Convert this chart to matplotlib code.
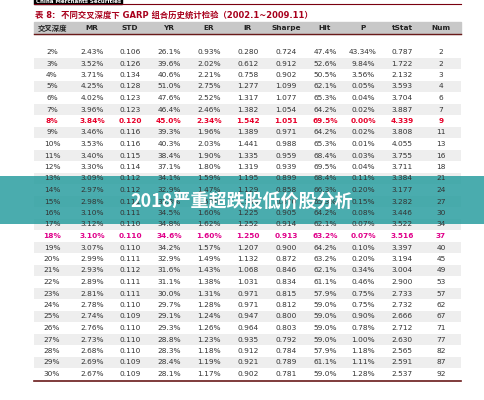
import matplotlib
matplotlib.use("Agg")
import matplotlib.pyplot as plt
from matplotlib.patches import Rectangle

plt.rcParams['font.family'] = ['DejaVu Sans', 'Noto Sans CJK SC']

headers = ["交叉深度", "MR", "STD", "YR", "ER", "IR", "Sharpe", "Hit", "P", "tStat", "Num"]
depth = ["2%","3%","4%","5%","6%","7%","8%","9%","10%","11%","12%","13%","14%","15%","16%","17%","18%","19%",
         "20%","21%","22%","23%","24%","25%","26%","27%","28%","29%","30%"]
MR = ["2.43%","3.52%","3.71%","4.25%","4.02%","3.96%","3.84%","3.46%","3.53%","3.40%","3.30%","3.09%","2.97%","2.98%",
      "3.10%","3.12%","3.10%","3.07%","2.99%","2.93%","2.89%","2.81%","2.78%","2.74%","2.76%","2.73%","2.68%","2.69%","2.67%"]
STD = ["0.106","0.126","0.134","0.128","0.123","0.123","0.120","0.116","0.116","0.115","0.114","0.112","0.112","0.111",
       "0.111","0.110","0.110","0.110","0.111","0.112","0.111","0.111","0.110","0.109","0.110","0.110","0.110","0.109","0.109"]
YR = ["26.1%","39.6%","40.6%","51.0%","47.6%","46.4%","45.0%","39.3%","40.3%","38.4%","37.1%","34.1%","32.9%","33.3%",
      "34.5%","34.8%","34.6%","34.2%","32.9%","31.6%","31.1%","30.0%","29.7%","29.1%","29.3%","28.8%","28.3%","28.4%","28.1%"]
ER = ["0.93%","2.02%","2.21%","2.75%","2.52%","2.46%","2.34%","1.96%","2.03%","1.90%","1.80%","1.59%","1.47%","1.52%",
      "1.60%","1.62%","1.60%","1.57%","1.49%","1.43%","1.38%","1.31%","1.28%","1.24%","1.26%","1.23%","1.18%","1.19%","1.17%"]
IR = ["0.280","0.612","0.758","1.277","1.317","1.382","1.542","1.389","1.441","1.335","1.319","1.195","1.129","1.160",
      "1.225","1.252","1.250","1.207","1.132","1.068","1.031","0.971","0.971","0.947","0.964","0.935","0.912","0.921","0.902"]
Sharpe = ["0.724","0.912","0.902","1.099","1.077","1.054","1.051","0.971","0.988","0.959","0.939","0.899","0.858","0.870",
          "0.905","0.914","0.913","0.900","0.872","0.846","0.834","0.815","0.812","0.800","0.803","0.792","0.784","0.789","0.781"]
Hit = ["47.4%","52.6%","50.5%","62.1%","65.3%","64.2%","69.5%","64.2%","65.3%","68.4%","69.5%","68.4%","66.3%","65.3%",
       "64.2%","62.1%","63.2%","64.2%","63.2%","62.1%","61.1%","57.9%","59.0%","59.0%","59.0%","59.0%","57.9%","61.1%","59.0%"]
P = ["43.34%","9.84%","3.56%","0.05%","0.04%","0.02%","0.00%","0.02%","0.01%","0.03%","0.04%","0.11%","0.20%","0.15%",
     "0.08%","0.07%","0.07%","0.10%","0.20%","0.34%","0.46%","0.75%","0.75%","0.90%","0.78%","1.00%","1.18%","1.11%","1.28%"]
tStat = ["0.787","1.722","2.132","3.593","3.704","3.887","4.339","3.808","4.055","3.755","3.711","3.384","3.177","3.282",
         "3.446","3.522","3.516","3.397","3.194","3.004","2.900","2.733","2.732","2.666","2.712","2.630","2.565","2.591","2.537"]
Num = ["2","2","3","4","6","7","9","11","13","16","18","21","24","27","30","34","37","40","45","49","53","57","62","67","71","77","82","87","92"]

cols = [depth, MR, STD, YR, ER, IR, Sharpe, Hit, P, tStat, Num]
xc = [52, 92, 130, 169, 209, 248, 286, 325, 363, 402, 441]

fig = plt.figure(figsize=(4.85, 4.0), dpi=100)
fig.patch.set_facecolor("white")
ax = fig.add_axes([0, 0, 1, 1])
ax.set_xlim(0, 485); ax.set_ylim(400, 0); ax.axis("off")

L, R = 34, 461
ax.add_patch(Rectangle((34, -1), 88, 5, color="black"))
ax.text(36, 1.5, "China Merchants Securities", color="white", fontsize=4, va="center", ha="left", fontweight="bold")
ax.plot([L, R], [4, 4], color="#7a0010", lw=0.8)
ax.text(35, 15, "表 8:  不同交叉深度下 GARP 组合历史统计检验（2002.1~2009.11）", color="#a8001c",
        fontsize=6, va="center", ha="left", fontweight="bold")
ax.add_patch(Rectangle((L, 22), R - L, 11.5, color="#c8c8c8"))
ax.plot([L, R], [33.5, 33.5], color="#6a1a1a", lw=1)
for x, h in zip(xc, headers):
    ax.text(x, 28, h, fontsize=5.3, ha="center", va="center", color="#222", fontweight="bold")

y0, dy = 52, 11.5
for i in range(len(depth)):
    y = y0 + i * dy
    if i % 2 == 1:
        ax.add_patch(Rectangle((L, y - dy / 2), R - L, dy, color="#eeeeee", lw=0))
    color, weight = "#333", "normal"
    if depth[i] == "8%":
        color, weight = "#e8002a", "bold"
    elif depth[i] == "18%":
        color, weight = "#e0008a", "bold"
    for x, c in zip(xc, cols):
        ax.text(x, y, c[i], fontsize=5.3, ha="center", va="center", color=color, fontweight=weight)
ax.plot([L, R], [381, 381], color="#6a1a1a", lw=1.2)

ax.add_patch(Rectangle((0, 176), 485, 48, color="#2a9ea0", alpha=0.85, lw=0))
ax.text(242, 201, "2018严重超跌股低价股分析", fontsize=13, color="white", fontweight="bold",
        ha="center", va="center", family=["Noto Sans CJK SC", "DejaVu Sans"])

fig.savefig("out.png", dpi=100)
